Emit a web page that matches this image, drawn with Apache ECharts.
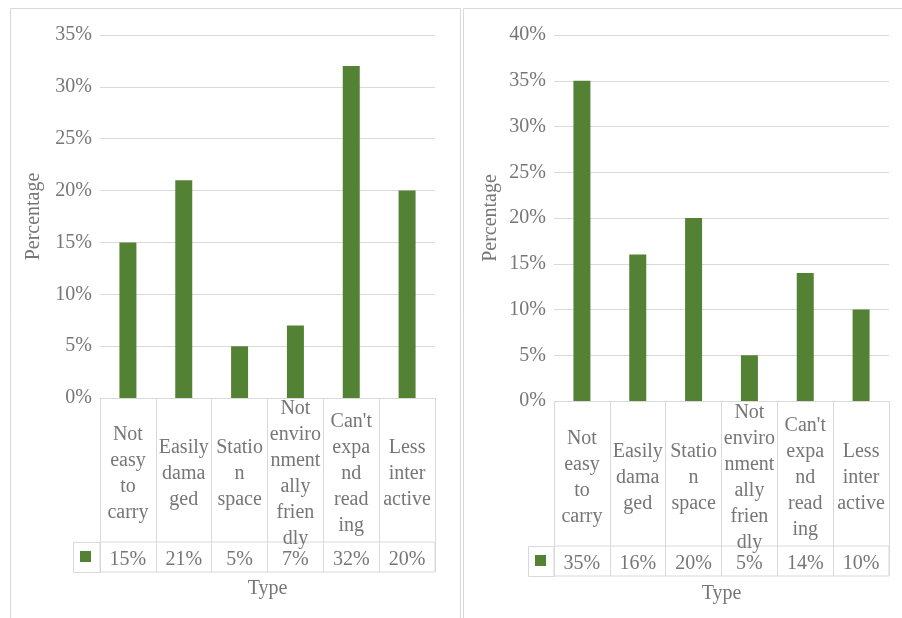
<!DOCTYPE html>
<html>
<head>
<meta charset="utf-8">
<script src="https://cdn.jsdelivr.net/npm/echarts@6/dist/echarts.min.js"></script>
<style>
  html, body { margin: 0; padding: 0; background: #fff; }
  #main { width: 902px; height: 618px; }
</style>
</head>
<body>
<div id="main"></div>
<script>
// category labels, wrapped the way the data table shows them
var types = ['Not\neasy\nto\ncarry', 'Easily\ndama\nged', 'Statio\nn\nspace',
             'Not\nenviro\nnment\nally\nfrien\ndly', "Can't\nexpa\nnd\nread\ning", 'Less\ninter\nactive'];
var leftValues = [15, 21, 5, 7, 32, 20];
var rightValues = [35, 16, 20, 5, 14, 10];
var leftTicks = [0, 5, 10, 15, 20, 25, 30, 35];
var rightTicks = [0, 5, 10, 15, 20, 25, 30, 35, 40];

var FONT = 'Liberation Serif';
var GRAY = '#767676';
var LINE = '#d9d9d9';
var GREEN = '#548235';

var chart = echarts.init(document.getElementById('main'));

function pct(v) { return v + '%'; }

// one panel = chart grid + value row grid
function panel(idx, cfg) {
	var g = idx * 2;
	return {
		grids: [
			{ left: cfg.left, right: cfg.right, top: 35, height: cfg.plotH },
			{ left: cfg.left, right: cfg.right, top: 35 + cfg.plotH + cfg.rowH, height: 30,
			  show: true, borderColor: LINE, borderWidth: 1 }
		],
		xAxes: [{
			type: 'category', gridIndex: g, data: types,
			axisLine: { show: true, lineStyle: { color: LINE } },
			axisTick: { show: true, alignWithLabel: false, interval: 0, length: cfg.rowH, lineStyle: { color: LINE } },
			axisLabel: { interval: 0, margin: cfg.rowH / 2 + 4, verticalAlign: 'middle', lineHeight: 26,
				fontFamily: FONT, fontSize: 20, color: GRAY }
		}, {
			type: 'category', gridIndex: g + 1, data: cfg.values.map(pct),
			name: 'Type', nameLocation: 'middle', nameGap: cfg.typeGap,
			nameTextStyle: { fontFamily: FONT, fontSize: 20, color: GRAY },
			axisLine: { show: false }, axisTick: { show: false },
			splitLine: { show: true, interval: 0, lineStyle: { color: LINE } },
			axisLabel: { interval: 0, inside: true, margin: 2, fontFamily: FONT, fontSize: 20, color: GRAY }
		}],
		yAxes: [{
			type: 'value', gridIndex: g, min: 0, max: cfg.ticks[cfg.ticks.length - 1], interval: 5,
			name: 'Percentage', nameLocation: 'middle', nameRotate: 90, nameGap: cfg.nameGap,
			nameTextStyle: { fontFamily: FONT, fontSize: 20, color: GRAY },
			axisLine: { show: false }, axisTick: { show: false },
			splitLine: { lineStyle: { color: LINE } },
			axisLabel: { margin: 8, formatter: pct, fontFamily: FONT, fontSize: 20, color: GRAY }
		}, {
			type: 'value', gridIndex: g + 1, show: false
		}],
		series: {
			name: cfg.name, type: 'bar', xAxisIndex: g, yAxisIndex: g,
			data: cfg.values, barWidth: 17,
			itemStyle: { color: GREEN }
		},
		legend: {
			data: [cfg.name], left: cfg.keyX + 7, top: 35 + cfg.plotH + cfg.rowH + 9,
			padding: 0, itemGap: 0, itemWidth: 11, itemHeight: 11, icon: 'rect',
			formatter: function () { return ''; }, selectedMode: false
		},
		key: {
			type: 'rect', silent: true,
			shape: { x: cfg.keyX + 0.5, y: 35 + cfg.plotH + cfg.rowH + 0.5, width: cfg.left - cfg.keyX, height: 30 },
			style: { fill: null, stroke: LINE, lineWidth: 1 }
		}
	};
}

var L = panel(0, { left: 100, right: 467, plotH: 363, rowH: 144, values: leftValues, ticks: leftTicks,
	nameGap: 56, typeGap: 7, keyX: 73, name: 'Left' });
var R = panel(1, { left: 554, right: 13, plotH: 366, rowH: 145, values: rightValues, ticks: rightTicks,
	nameGap: 53, typeGap: 8, keyX: 528, name: 'Right' });

var option = {
	animation: false,
	textStyle: { fontFamily: FONT },
	grid: L.grids.concat(R.grids),
	xAxis: L.xAxes.concat(R.xAxes),
	yAxis: L.yAxes.concat(R.yAxes),
	series: [L.series, R.series],
	legend: [L.legend, R.legend],
	graphic: [
		{ type: 'rect', silent: true, shape: { x: 10.5, y: 8.5, width: 450, height: 640 },
		  style: { fill: null, stroke: LINE, lineWidth: 1 } },
		{ type: 'rect', silent: true, shape: { x: 463.5, y: 8.5, width: 450, height: 640 },
		  style: { fill: null, stroke: LINE, lineWidth: 1 } },
		L.key, R.key
	]
};

chart.setOption(option);
</script>
</body>
</html>
